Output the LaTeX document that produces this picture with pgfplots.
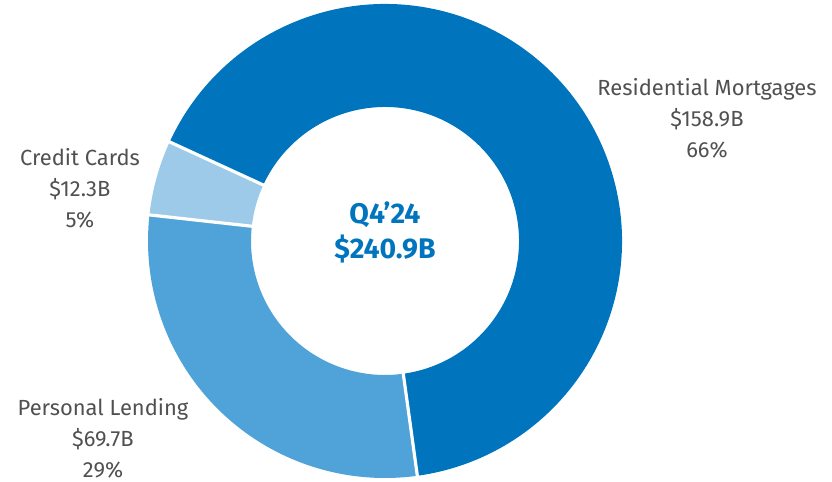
\documentclass[border=0pt]{standalone}
\usepackage{pgfplots}
\usepackage{pgfplotstable}
\pgfplotsset{compat=1.18}
\usepackage{fontspec}
\setmainfont{Fira Sans}
\definecolor{dblue}{HTML}{0075BE}
\definecolor{mblue}{HTML}{4FA3D8}
\definecolor{lblue}{HTML}{9CCAE8}
\definecolor{txt}{HTML}{505050}
\pgfplotstableread{
value
158.9
69.7
12.3
}\data
\begin{document}
\begin{tikzpicture}
\pgfplotstablegetelem{0}{value}\of\data \let\vA\pgfplotsretval
\pgfplotstablegetelem{1}{value}\of\data \let\vB\pgfplotsretval
\pgfplotstablegetelem{2}{value}\of\data \let\vC\pgfplotsretval
\pgfmathsetmacro{\tot}{\vA+\vB+\vC}
\pgfmathsetmacro{\aA}{155.3}
\pgfmathsetmacro{\aB}{\aA-360*(\vA/\tot)}
\pgfmathsetmacro{\aC}{\aB-360*(\vB/\tot)}
\pgfmathsetmacro{\aD}{\aC-360*(\vC/\tot)}
\begin{axis}[at={(0,0)},anchor=south west,x=1bp,y=1bp,
  xmin=0,xmax=832,ymin=0,ymax=482,hide axis,clip=false]
\path (axis cs:0,0) rectangle (axis cs:832,482);
\fill[dblue,overlay] (axis cs:385,241) ++(\aA:237bp) arc[start angle=\aA,end angle=\aB,radius=237bp]
  -- ++(\aB:-103bp) arc[start angle=\aB,end angle=\aA,radius=134bp] -- cycle;
\fill[mblue,overlay] (axis cs:385,241) ++(\aB:237bp) arc[start angle=\aB,end angle=\aC,radius=237bp]
  -- ++(\aC:-103bp) arc[start angle=\aC,end angle=\aB,radius=134bp] -- cycle;
\fill[lblue,overlay] (axis cs:385,241) ++(\aC:237bp) arc[start angle=\aC,end angle=\aD,radius=237bp]
  -- ++(\aD:-103bp) arc[start angle=\aD,end angle=\aC,radius=134bp] -- cycle;
\draw[white,line width=3.2bp,overlay] (axis cs:385,241) ++(\aA:125bp) -- ++(\aA:120bp);
\draw[white,line width=3.2bp,overlay] (axis cs:385,241) ++(\aB:125bp) -- ++(\aB:120bp);
\draw[white,line width=3.2bp,overlay] (axis cs:385,241) ++(\aC:125bp) -- ++(\aC:120bp);
\node[align=center,text=txt,font=\fontsize{22}{31}\selectfont] at (axis cs:707,364)
  {Residential Mortgages\\\$158.9B\\66\%};
\node[align=center,text=txt,font=\fontsize{22}{31}\selectfont] at (axis cs:80,294)
  {Credit Cards\\\$12.3B\\5\%};
\node[align=center,text=txt,font=\fontsize{22}{31}\selectfont,inner ysep=1bp] at (axis cs:103,44)
  {Personal Lending\\\$69.7B\\29\%};
\node[align=center,text=dblue,font=\bfseries\fontsize{28.5}{35}\selectfont] at (axis cs:385,250)
  {Q4’24\\\$240.9B};
\end{axis}
\end{tikzpicture}
\end{document}
